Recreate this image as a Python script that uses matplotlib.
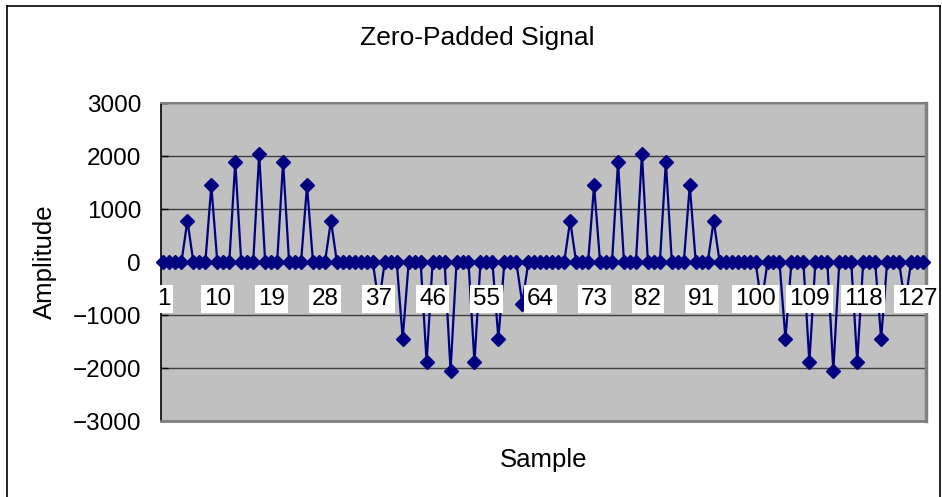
import matplotlib
matplotlib.use("Agg")
from matplotlib import pyplot as plt
from matplotlib.lines import Line2D

# zero-padded signal, 128 samples
amplitude = [
    0, 0, 0, 0, 784, 0, 0, 0, 1448, 0, 0, 0, 1892, 0, 0, 0,
    2048, 0, 0, 0, 1892, 0, 0, 0, 1448, 0, 0, 0, 784, 0, 0, 0,
    0, 0, 0, 0, -784, 0, 0, 0, -1448, 0, 0, 0, -1892, 0, 0, 0,
    -2048, 0, 0, 0, -1892, 0, 0, 0, -1448, 0, 0, 0, -784, 0, 0, 0,
    0, 0, 0, 0, 784, 0, 0, 0, 1448, 0, 0, 0, 1892, 0, 0, 0,
    2048, 0, 0, 0, 1892, 0, 0, 0, 1448, 0, 0, 0, 784, 0, 0, 0,
    0, 0, 0, 0, -784, 0, 0, 0, -1448, 0, 0, 0, -1892, 0, 0, 0,
    -2048, 0, 0, 0, -1892, 0, 0, 0, -1448, 0, 0, 0, -784, 0, 0, 0,
]
samples = list(range(1, len(amplitude) + 1))
x_labels = [1, 10, 19, 28, 37, 46, 55, 64, 73, 82, 91, 100, 109, 118, 127]
y_ticks = [-3000, -2000, -1000, 0, 1000, 2000, 3000]

W, H = 942, 497
plt.rcParams['font.family'] = ['Liberation Sans', 'DejaVu Sans']

fig = plt.figure(figsize=(W / 100, H / 100), dpi=100)
ax = fig.add_axes([160.5 / W, (H - 421) / H, (926 - 160.5) / W, (421 - 103.3) / H])
ax.set_facecolor('#c0c0c0')

ax.plot(samples, amplitude, color='#000080', linewidth=1.6, marker='D',
        markersize=7.5, markerfacecolor='#000080', markeredgecolor='#000080',
        zorder=3, clip_on=False)
ax.axhline(0, color='black', linewidth=1, zorder=2)

ax.set_xlim(0.5, len(amplitude) + 0.5)
ax.set_ylim(-3000, 3000)
ax.set_xticks([])
ax.set_yticks(y_ticks)
ax.set_yticklabels([f"{v}".replace('-', '\u2212') for v in y_ticks], fontsize=17.5)
ax.tick_params(axis='y', direction='in', length=5, width=1, pad=14, color='black')
ax.yaxis.grid(True, color='#404040', linewidth=1)
ax.set_axisbelow(True)

ax.spines['left'].set_color('black')
ax.spines['left'].set_linewidth(1.2)
ax.spines['top'].set_color('#808080')
ax.spines['top'].set_linewidth(1.5)
ax.spines['right'].set_color('#808080')
ax.spines['right'].set_linewidth(2.5)
ax.spines['bottom'].set_color('#808080')
ax.spines['bottom'].set_linewidth(2)

# category labels sit on the zero axis with white boxes
for n in x_labels:
    ax.annotate(str(n), xy=(n, 0), xytext=(0, -26.5), textcoords='offset points',
                ha='center', va='center', fontsize=17.5, zorder=5,
                annotation_clip=False,
                bbox=dict(boxstyle='square,pad=0.12', fc='white', ec='none'))

fig.text(477 / W, 1 - 38 / H, 'Zero-Padded Signal', ha='center', va='center', fontsize=19)
fig.text(45 / W, 1 - 262 / H, 'Amplitude', ha='center', va='center', rotation=90, fontsize=18.5)
fig.text(544 / W, 1 - 460 / H, 'Sample', ha='center', va='center', fontsize=18.5)

# chart area border
for xs, ys in [([7, 7], [6, H + 5]), ([7, 940], [6, 6]), ([940, 940], [6, H + 5])]:
    fig.add_artist(Line2D([x / W for x in xs], [1 - y / H for y in ys],
                          transform=fig.transFigure, color='black', linewidth=1.2))

fig.savefig('out.png', dpi=100)
